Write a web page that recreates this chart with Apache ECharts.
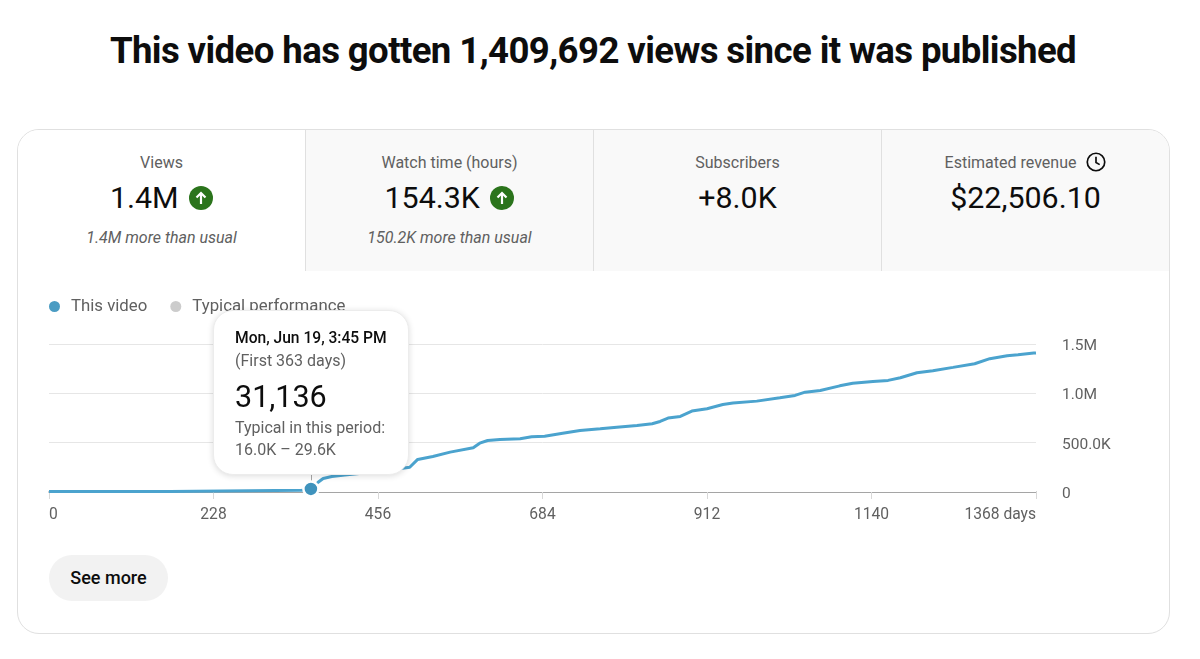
<!DOCTYPE html>
<html>
<head>
<meta charset="utf-8">
<title>Views since published</title>
<script src="https://cdn.jsdelivr.net/npm/echarts@6/dist/echarts.min.js"></script>
<style>
    html, body { margin: 0; padding: 0; background: #fff; font-family: Roboto, sans-serif; }
    #page { position: relative; width: 1200px; height: 659px; overflow: hidden; }
    h1 { position: absolute; left: 0; top: 27px; width: 1186px; margin: 0; text-align: center; font-size: 36.6px; line-height: 48px; font-weight: 700; letter-spacing: -0.6px; color: #0d0d0d; }
    #card { position: absolute; left: 17px; top: 129px; width: 1151px; height: 503px; border: 1px solid #e0e0e0; border-radius: 22px; overflow: hidden; }
    .tab { position: absolute; top: 0; width: 287px; height: 141px; text-align: center; background: #f9f9f9; border-left: 1px solid #e0e0e0; }
    .tab.first { background: #fff; border-left: 0; }
    .tab .label { position: absolute; left: 0; right: 0; top: 22px; line-height: 22px; font-size: 16px; color: #606060; }
    .tab .value { position: absolute; left: 0; right: 0; top: 48px; line-height: 40px; font-size: 30.4px; color: #0d0d0d; }
    .tab .note { position: absolute; left: 0; right: 0; top: 97px; line-height: 22px; font-size: 16px; font-style: italic; color: #606060; }
    .tab svg { vertical-align: middle; }
    #more { position: absolute; left: 49px; top: 555px; width: 119px; height: 46px; line-height: 46px; border-radius: 23px; background: #f2f2f2; text-align: center; font-size: 18px; font-weight: 500; color: #0d0d0d; }
    #chart { position: absolute; left: 0; top: 0; width: 1200px; height: 659px; }
</style>
</head>
<body>
<div id="page">
    <h1>This video has gotten 1,409,692 views since it was published</h1>
    <div id="card">
        <div class="tab first" style="left:0;width:287px">
            <div class="label">Views</div>
            <div class="value">1.4M <svg width="24" height="24" viewBox="0 0 24 24" style="margin:-3px 0 0 3px"><circle cx="12" cy="12" r="12" fill="#2b741c"/><path d="M12 18V7M7.5 11.5L12 7l4.500 4.500" fill="none" stroke="#fff" stroke-width="2.200"/></svg></div>
            <div class="note">1.4M more than usual</div>
        </div>
        <div class="tab" style="left:287px">
            <div class="label">Watch time (hours)</div>
            <div class="value">154.3K <svg width="24" height="24" viewBox="0 0 24 24" style="margin:-3px 0 0 3px"><circle cx="12" cy="12" r="12" fill="#2b741c"/><path d="M12 18V7M7.5 11.5L12 7l4.500 4.500" fill="none" stroke="#fff" stroke-width="2.200"/></svg></div>
            <div class="note">150.2K more than usual</div>
        </div>
        <div class="tab" style="left:575px">
            <div class="label">Subscribers</div>
            <div class="value">+8.0K</div>
        </div>
        <div class="tab" style="left:863px">
            <div class="label">Estimated revenue <svg width="20" height="20" viewBox="0 0 19 19" style="margin:-3px 0 0 6px"><circle cx="9.500" cy="9.500" r="8.300" fill="none" stroke="#0d0d0d" stroke-width="1.600"/><path d="M9.500 4.500V10l3.500 2" fill="none" stroke="#0d0d0d" stroke-width="1.600"/></svg></div>
            <div class="value">$22,506.10</div>
        </div>
    </div>
    <div id="more">See more</div>
    <div id="chart"></div>
</div>
<script>
const days = [0, 167, 168, 350, 362, 363, 373, 380, 392, 410, 440, 470, 490, 500, 511, 532, 556, 588, 597, 608, 625, 653, 669, 687, 712, 736, 764, 787, 815, 836, 847, 858, 875, 891, 912, 934, 948, 981, 1013, 1034, 1048, 1069, 1096, 1114, 1142, 1163, 1180, 1203, 1225, 1253, 1283, 1304, 1328, 1343, 1365, 1368];
const views = [5000, 5000, 16000, 18000, 20000, 31136, 99000, 137000, 157000, 172000, 195000, 218000, 240000, 251000, 330000, 360000, 404000, 448000, 495000, 522000, 532000, 539000, 560000, 566000, 596000, 624000, 641000, 657000, 674000, 692000, 715000, 749000, 766000, 820000, 844000, 887000, 901000, 921000, 955000, 979000, 1012000, 1029000, 1076000, 1103000, 1120000, 1131000, 1158000, 1209000, 1229000, 1263000, 1300000, 1351000, 1381000, 1391000, 1408000, 1409692];
const typicalDays = [0, 363, 700, 1368];
const typicalViews = [3000, 29600, 33000, 37000];
const xTicks = [0, 228, 456, 684, 912, 1140, 1368];
const yTickLabels = { 0: '0', 500000: '500.0K', 1000000: '1.0M', 1500000: '1.5M' };
const hoverDay = 363;

const chart = echarts.init(document.getElementById('chart'), null, { renderer: 'canvas' });
const hoverIndex = days.indexOf(hoverDay);

chart.setOption({
    animation: false,
    textStyle: { fontFamily: 'Roboto' },
    grid: { left: 49, right: 164, top: 344, bottom: 167 },
    legend: {
        left: 49, top: 298, padding: 0, itemWidth: 11, itemHeight: 11, itemGap: 23, icon: 'circle',
        textStyle: { color: '#606060', fontSize: 16.8, padding: [0, 0, 0, 6] },
        selectedMode: false,
        data: ['This video', 'Typical performance']
    },
    xAxis: {
        type: 'value', min: 0, max: 1368, interval: 228,
        splitLine: { show: false },
        axisLine: { lineStyle: { color: '#909090', width: 1.5 } },
        axisTick: { show: true, length: 7, lineStyle: { color: '#d8d8d8' } },
        axisLabel: {
            color: '#606060', fontSize: 15.6, margin: 15,
            alignMinLabel: 'left', alignMaxLabel: 'right',
            formatter: v => v === xTicks[xTicks.length - 1] ? v + ' days' : String(v)
        }
    },
    yAxis: {
        type: 'value', min: 0, max: 1500000, interval: 500000, position: 'right',
        axisLine: { show: false }, axisTick: { show: false },
        splitLine: { lineStyle: { color: '#e6e6e6', width: 1 } },
        axisLabel: { color: '#606060', fontSize: 15.5, margin: 26, align: 'left', verticalAlign: 'top', lineHeight: 4, formatter: v => yTickLabels[v] }
    },
    tooltip: {
        trigger: 'axis', alwaysShowContent: true, showDelay: 0, transitionDuration: 0,
        padding: 0, borderWidth: 1, borderColor: '#ececec', backgroundColor: '#fff',
        extraCssText: 'width:196px;height:165px;border-radius:20px;box-shadow:0 1px 6px rgba(0,0,0,.14);box-sizing:border-box;',
        axisPointer: { type: 'line', z: 2, lineStyle: { color: '#a8a8a8', width: 1, type: 'solid' }, label: { show: false } },
        position: () => [213, 310],
        formatter: () => '<div style="padding:16px 0 0 21px;font-family:Roboto;white-space:nowrap">'
            + '<div style="font-size:15.6px;line-height:22px;font-weight:500;color:#0d0d0d">Mon, Jun 19, 3:45 PM</div>'
            + '<div style="font-size:16px;line-height:24px;color:#606060">(First 363 days)</div>'
            + '<div style="font-size:30.5px;line-height:47px;color:#0d0d0d">31,136</div>'
            + '<div style="font-size:16px;line-height:22px;margin-top:-3px;color:#606060">Typical in this period:<br>16.0K \u2013 29.6K</div>'
            + '</div>'
    },
    series: [
        {
            name: 'Typical performance', type: 'line', z: 1, symbol: 'none',
            color: '#cccccc', lineStyle: { width: 0 }, areaStyle: { color: '#ececec', opacity: 1 },
            data: typicalDays.map((d, i) => [d, typicalViews[i]])
        },
        {
            name: 'This video', type: 'line', z: 3, showSymbol: false, symbol: 'none',
            color: '#4b9cc3', lineStyle: { color: '#4595bc', width: 3 },
            data: days.map((d, i) => [d, views[i]]),
            markPoint: {
                silent: true, symbol: 'circle', symbolSize: 15, label: { show: false },
                itemStyle: { color: '#3f93bd', borderColor: '#fff', borderWidth: 2.5 },
                data: [{ coord: [days[hoverIndex], views[hoverIndex]] }]
            }
        }
    ]
});

chart.dispatchAction({ type: 'showTip', seriesIndex: 1, dataIndex: hoverIndex });
</script>
</body>
</html>
